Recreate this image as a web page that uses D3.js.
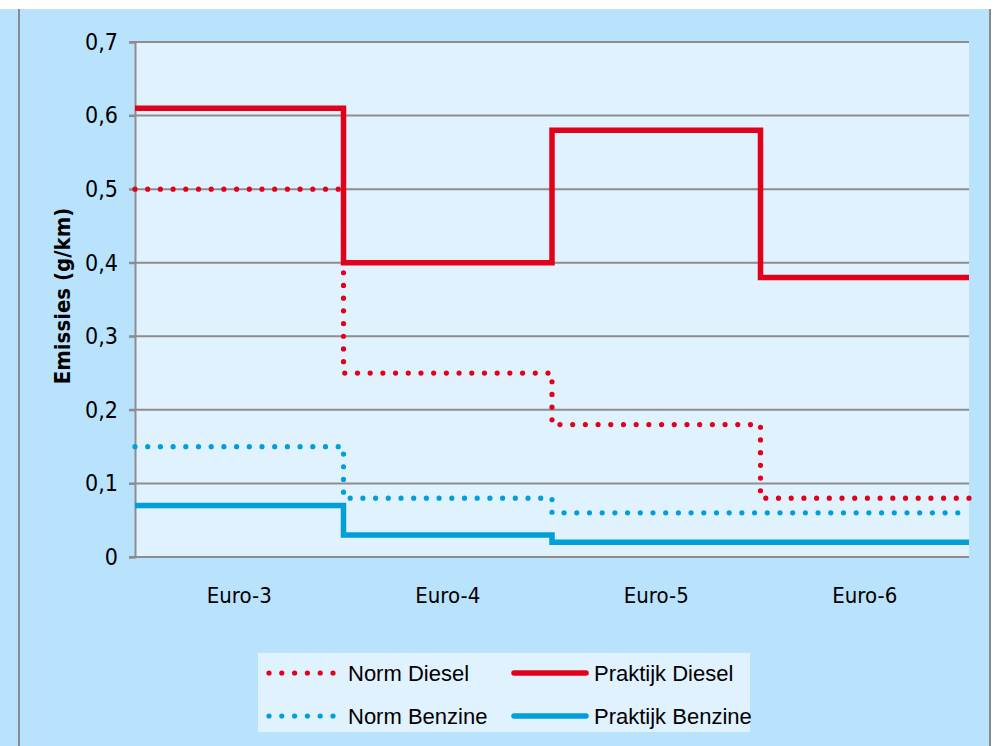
<!DOCTYPE html>
<html>
<head>
<meta charset="utf-8">
<script src="https://cdn.jsdelivr.net/npm/d3@7"></script>
<style>
  html, body { margin: 0; padding: 0; background: #ffffff; }
  svg { display: block; }
</style>
</head>
<body>
<svg id="chart" width="995" height="746"></svg>
<script>
// Emission limits (Norm) vs. real-world values (Praktijk) per Euro class, g/km
const categories = ["Euro-3", "Euro-4", "Euro-5", "Euro-6"];
const normDiesel = [0.50, 0.25, 0.18, 0.08];
const praktijkDiesel = [0.61, 0.40, 0.58, 0.38];
const normBenzine = [0.15, 0.08, 0.06, 0.06];
const praktijkBenzine = [0.07, 0.03, 0.02, 0.02];
const yTicks = [0, 0.1, 0.2, 0.3, 0.4, 0.5, 0.6, 0.7];
const yTickLabels = ["0", "0,1", "0,2", "0,3", "0,4", "0,5", "0,6", "0,7"];
const yTitle = "Emissies (g/km)";

const series = [
  { name: "Norm Diesel", values: normDiesel, color: "#e2001a", dotted: true },
  { name: "Norm Benzine", values: normBenzine, color: "#009fda", dotted: true },
  { name: "Praktijk Diesel", values: praktijkDiesel, color: "#e2001a", dotted: false },
  { name: "Praktijk Benzine", values: praktijkBenzine, color: "#009fda", dotted: false }
];

const svg = d3.select("#chart");
const W = 995, H = 746;
const plot = { left: 135, right: 969, top: 42, bottom: 557 };

const gridColor = "#8d8d8d";
const outerBg = "#b9e3fd";
const plotBg = "#e0f2fe";
const axisFont = "'DejaVu Sans Condensed', 'DejaVu Sans', sans-serif";

// Chart frame
svg.append("rect").attr("x", 0).attr("y", 9).attr("width", 991).attr("height", H - 9).attr("fill", outerBg);
svg.append("line").attr("x1", 19).attr("x2", 19).attr("y1", 9).attr("y2", H)
  .attr("stroke", "#8a8a8a").attr("stroke-width", 2);
svg.append("line").attr("x1", 990).attr("x2", 990).attr("y1", 9).attr("y2", H)
  .attr("stroke", "#8a8a8a").attr("stroke-width", 2);

// Scales
const x = d3.scaleBand().domain(categories).range([plot.left, plot.right]).padding(0);
const y = d3.scaleLinear().domain([0, 0.7]).range([plot.bottom, plot.top]);

svg.append("rect")
  .attr("x", plot.left).attr("y", plot.top)
  .attr("width", plot.right - plot.left).attr("height", plot.bottom - plot.top)
  .attr("fill", plotBg);

// Horizontal gridlines
svg.append("g").selectAll("line").data(yTicks).join("line")
  .attr("x1", plot.left - 6).attr("x2", plot.right)
  .attr("y1", d => y(d)).attr("y2", d => y(d))
  .attr("stroke", gridColor).attr("stroke-width", 2);

// Y axis
const yAxis = d3.axisLeft(y).tickValues(yTicks)
  .tickFormat((d, i) => yTickLabels[i]).tickSize(6).tickPadding(11);
const gy = svg.append("g").attr("transform", `translate(${plot.left},0)`).call(yAxis);
gy.select(".domain").attr("stroke", gridColor).attr("stroke-width", 2);
gy.selectAll(".tick line").attr("stroke", gridColor).attr("stroke-width", 2);
gy.selectAll(".tick text")
  .attr("font-family", axisFont).attr("font-size", 23).attr("fill", "#000");

// X axis labels
const xAxis = d3.axisBottom(x).tickSize(0).tickPadding(30);
const gx = svg.append("g").attr("transform", `translate(0,${plot.bottom})`).call(xAxis);
gx.select(".domain").remove();
gx.selectAll(".tick text")
  .attr("font-family", axisFont).attr("font-size", 22).attr("fill", "#000");

// Y title
svg.append("text")
  .attr("transform", "translate(70,296) rotate(-90)")
  .attr("text-anchor", "middle")
  .attr("font-family", axisFont).attr("font-weight", "bold")
  .attr("font-size", 22).attr("fill", "#000")
  .text(yTitle);

// Step lines: each value holds for the full width of its Euro class
const stepLine = d3.line()
  .x(d => d.x).y(d => y(d.v))
  .curve(d3.curveStepAfter);

function stepPoints(values) {
  const pts = values.map((v, i) => ({ x: x(categories[i]), v }));
  pts.push({ x: x(categories[categories.length - 1]) + x.bandwidth(), v: values[values.length - 1] });
  return pts;
}

const linesG = svg.append("g");
series.forEach(s => {
  const p = linesG.append("path")
    .attr("d", stepLine(stepPoints(s.values)))
    .attr("fill", "none")
    .attr("stroke", s.color);
  if (s.dotted) {
    p.attr("stroke-width", 5.2).attr("stroke-linecap", "round")
      .attr("stroke-dasharray", "0 12.7");
  } else {
    p.attr("stroke-width", 5.5).attr("stroke-linejoin", "miter");
  }
});

// Legend
const legend = svg.append("g");
legend.append("rect").attr("x", 258).attr("y", 653).attr("width", 492).attr("height", 79)
  .attr("fill", plotBg);
const legendItems = [
  { s: series[0], lx: 269, ty: 673 },
  { s: series[2], lx: 513, ty: 673 },
  { s: series[1], lx: 269, ty: 716 },
  { s: series[3], lx: 513, ty: 716 }
];
legendItems.forEach(it => {
  const g = legend.append("g");
  if (it.s.dotted) {
    g.append("line").attr("x1", it.lx).attr("x2", it.lx + 64.5)
      .attr("y1", it.ty).attr("y2", it.ty)
      .attr("stroke", it.s.color).attr("stroke-width", 5.2)
      .attr("stroke-linecap", "round").attr("stroke-dasharray", "0 12.8");
    g.append("text").attr("x", 348).attr("y", it.ty).attr("dy", "0.36em")
      .attr("font-family", "'Liberation Sans', Arial, sans-serif").attr("font-size", 22)
      .attr("fill", "#000").text(it.s.name);
  } else {
    g.append("line").attr("x1", it.lx + 1).attr("x2", it.lx + 73)
      .attr("y1", it.ty).attr("y2", it.ty)
      .attr("stroke", it.s.color).attr("stroke-width", 5.5)
      .attr("stroke-linecap", "round");
    g.append("text").attr("x", 594).attr("y", it.ty).attr("dy", "0.36em")
      .attr("font-family", "'Liberation Sans', Arial, sans-serif").attr("font-size", 22)
      .attr("fill", "#000").text(it.s.name);
  }
});
</script>
</body>
</html>
